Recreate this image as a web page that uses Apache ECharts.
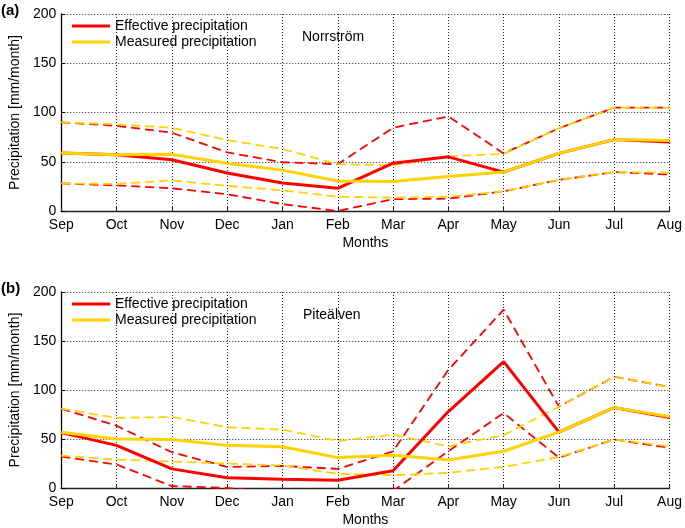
<!DOCTYPE html>
<html>
<head>
<meta charset="utf-8">
<script src="https://cdn.jsdelivr.net/npm/echarts@6/dist/echarts.min.js"></script>
<style>
html,body{margin:0;padding:0;background:#fff;}
#chart{width:685px;height:528px;}
</style>
</head>
<body>
<div id="chart"></div>
<script>
// ---- data ----
const months = ['Sep','Oct','Nov','Dec','Jan','Feb','Mar','Apr','May','Jun','Jul','Aug'];
const yTicks = [0, 50, 100, 150, 200];
const legendNames = ['Effective precipitation', 'Measured precipitation'];
const panelLabels = ['(a)', '(b)'];
const basinNames = ['Norrström', 'Piteälven'];

// Panel (a) Norrström
const effA    = [59, 57, 52, 38.5, 28.5, 23, 48.5, 55, 39.5, 58.5, 72.5, 70];
const measA   = [59, 57, 57.5, 48.5, 41.5, 30.5, 30, 35, 39.5, 58.5, 72.5, 71.5];
const effAHi  = [90, 86.5, 79.5, 59.5, 49.5, 47.5, 84.5, 96, 58.5, 84, 105, 105];
const measAHi = [90, 88, 84.5, 72, 63, 47.5, 46.5, 55.5, 58, 84, 105, 105];
const effALo  = [28, 26, 23, 17, 7, 0, 12, 12.5, 20, 31.5, 39.5, 37];
const measALo = [28, 27.5, 31, 25.5, 21, 14.5, 13.5, 14.5, 20, 31.5, 39.5, 39];

// Panel (b) Piteälven
const effB    = [56.5, 43.5, 19.5, 10.5, 9, 8, 17.5, 78, 129, 57, 82, 72];
const measB   = [57, 50, 49.5, 43.5, 42, 31, 33.5, 28.5, 37.5, 57, 82, 73];
const effBHi  = [81, 63.5, 36.5, 21.5, 22.5, 19.5, 37.5, 120.5, 182, 83, 113.5, 103];
const measBHi = [81, 71.5, 72.5, 62, 59.5, 48, 54.5, 42.5, 54, 83, 113.5, 103];
const effBLo  = [32, 24, 2, 0, -5, -8, -3, 37.5, 76.5, 31, 49.5, 41];
const measBLo = [33, 29, 27, 25, 23, 14.5, 13, 15.5, 21.5, 31.5, 49.5, 42.5];

// ---- styling ----
const RED = '#ff0000';
const YEL = '#ffd200';
const FONT = 'Liberation Sans, Arial, Helvetica, sans-serif';
const chart = echarts.init(document.getElementById('chart'), null, {renderer: 'canvas'});

const grids = [
  {left: 57, right: 14, top: 14, height: 197},
  {left: 57, right: 14, top: 292, height: 197}
];

function xAxis(i) {
  return {
    type: 'category', gridIndex: i, data: months, boundaryGap: false,
    name: 'Months', nameLocation: 'middle', nameGap: 25,
    nameTextStyle: {fontFamily: FONT, fontSize: 14, color: '#000'},
    axisLine: {lineStyle: {color: '#222', width: 1.3}},
    axisTick: {inside: true, length: 4, lineStyle: {color: '#222'}},
    axisLabel: {fontFamily: FONT, fontSize: 14, color: '#000', margin: 7},
    splitLine: {show: true, lineStyle: {color: '#222', type: [1, 2], width: 1}}
  };
}
function yAxis(i) {
  return {
    type: 'value', gridIndex: i, min: yTicks[0], max: yTicks[yTicks.length - 1], interval: 50,
    name: 'Precipitation [mm/month]', nameLocation: 'middle', nameGap: 37,
    nameTextStyle: {fontFamily: FONT, fontSize: 14, color: '#000'},
    axisLine: {show: true, lineStyle: {color: '#000', width: 1.3}},
    axisTick: {show: true, inside: true, length: 4, lineStyle: {color: '#000'}},
    axisLabel: {fontFamily: FONT, fontSize: 14, color: '#000', margin: 5},
    splitLine: {show: true, lineStyle: {color: '#222', type: [1, 2], width: 1}}
  };
}
function line(name, data, idx, color, dashed, z) {
  return {
    name: name, type: 'line', xAxisIndex: idx, yAxisIndex: idx, data: data,
    symbol: 'none', clip: true, z: z, animation: false,
    lineStyle: dashed ? {color: color, width: 1.8, type: [9, 5]} : {color: color, width: 3},
    itemStyle: {color: color}
  };
}

const series = [];
const panels = [
  [effA, measA, effAHi, measAHi, effALo, measALo],
  [effB, measB, effBHi, measBHi, effBLo, measBLo]
];
panels.forEach((p, i) => {
  series.push(line(legendNames[0] + (i ? ' ' : ''), p[0], i, RED, false, 4));
  series.push(line(legendNames[1] + (i ? ' ' : ''), p[1], i, YEL, false, 5));
  series.push(line('eff hi ' + i, p[2], i, RED, true, 2));
  series.push(line('meas hi ' + i, p[3], i, YEL, true, 3));
  series.push(line('eff lo ' + i, p[4], i, RED, true, 2));
  series.push(line('meas lo ' + i, p[5], i, YEL, true, 3));
});

function legend(i, top) {
  return {
    data: legendNames.map(n => n + (i ? ' ' : '')),
    orient: 'vertical', left: 67, top: top, itemWidth: 38, itemHeight: 3, itemGap: 2,
    icon: 'rect', selectedMode: false,
    textStyle: {fontFamily: FONT, fontSize: 14, color: '#000', lineHeight: 14}
  };
}

const option = {
  backgroundColor: '#fff',
  animation: false,
  grid: grids,
  xAxis: [xAxis(0), xAxis(1)],
  yAxis: [yAxis(0), yAxis(1)],
  legend: [legend(0, 14), legend(1, 292)],
  series: series,
  graphic: [
    {type: 'text', left: 1, top: 3, style: {text: panelLabels[0], font: 'bold 15px ' + FONT, fill: '#000'}},
    {type: 'text', left: 1, top: 281, style: {text: panelLabels[1], font: 'bold 15px ' + FONT, fill: '#000'}},
    {type: 'text', left: 302, top: 30, style: {text: basinNames[0], font: '14px ' + FONT, fill: '#000'}},
    {type: 'text', left: 303, top: 308, style: {text: basinNames[1], font: '14px ' + FONT, fill: '#000'}}
  ]
};
chart.setOption(option);
</script>
</body>
</html>
